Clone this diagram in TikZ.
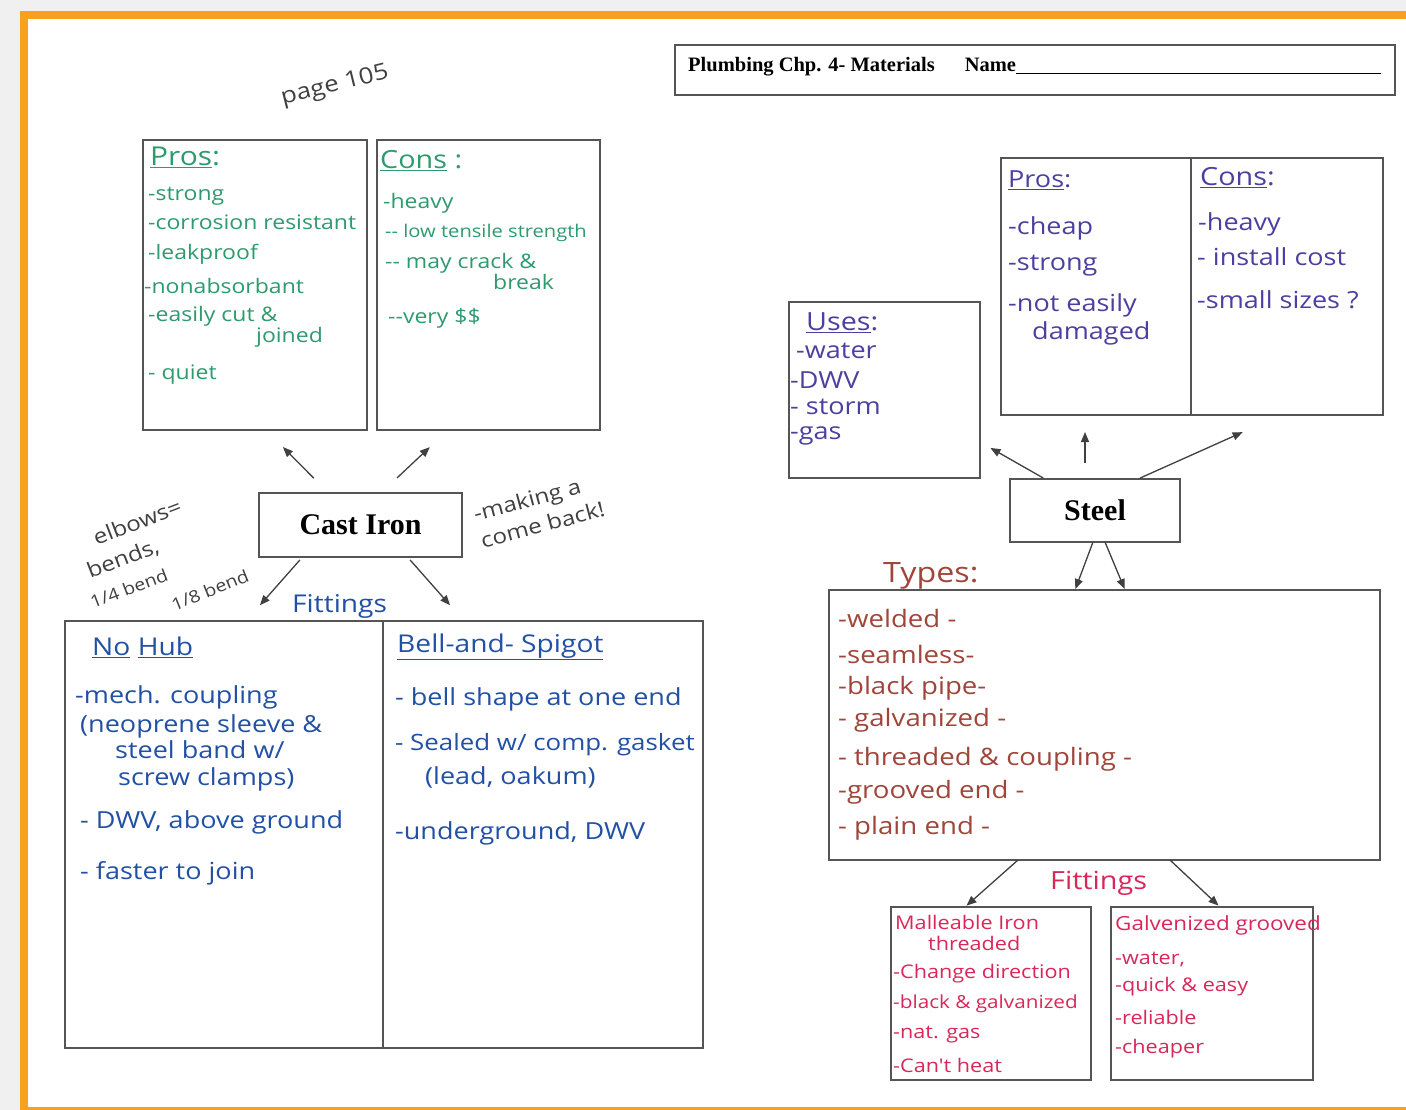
\documentclass[tikz,border=0pt]{standalone}
\usepackage{fontspec}
\setmainfont{Liberation Serif}
\newfontfamily\hw[FakeStretch=1.15]{Open Sans}
\usetikzlibrary{arrows.meta}
\definecolor{orng}{HTML}{F7A11F}
\definecolor{cgreen}{HTML}{2E9A6E}
\definecolor{cpurp}{HTML}{4B40A0}
\definecolor{cblue}{HTML}{2150A5}
\definecolor{cbrown}{HTML}{A0453A}
\definecolor{cred}{HTML}{D8285A}
\definecolor{cann}{HTML}{404040}
\definecolor{boxc}{HTML}{555555}
\begin{document}
\begin{tikzpicture}[x=1pt,y=-1pt,
  box/.style={draw=boxc, line width=1.3pt, inner sep=0pt, outer sep=0pt},
  arr/.style={-{Triangle[length=10pt,width=8pt]}, draw=black!75, line width=1.3pt},
  tx/.style={inner sep=0pt, anchor=west},
  gtx/.style={tx, text=cgreen, font=\hw\fontsize{20}{22}\selectfont},
  ptx/.style={tx, text=cpurp, font=\hw\fontsize{23.5}{26}\selectfont},
  btx/.style={tx, text=cblue, font=\hw\fontsize{23.5}{26}\selectfont},
  rtx/.style={tx, text=cbrown, font=\hw\fontsize{24}{27}\selectfont},
  ctx/.style={tx, text=cred, font=\hw\fontsize{18.8}{21}\selectfont},
  ann/.style={inner sep=0pt, anchor=center, text=cann, font=\hw\fontsize{21}{24}\selectfont},
  title/.style={inner sep=0pt, font=\bfseries\fontsize{30}{34}\selectfont}
]
\useasboundingbox (0,0) rectangle (1406,1110);
\fill[white] (0,0) rectangle (1406,1110);
\fill[black!6] (0,0) rectangle (1406,11);
\fill[black!6] (0,0) rectangle (20,1110);
\fill[orng] (20,11) rectangle (1406,19);
\fill[orng] (20,11) rectangle (28,1110);
\fill[orng] (20,1107) rectangle (1406,1110);

% ---------- boxes ----------
\node[box, minimum width=720pt, minimum height=50pt] (ttl) at (1035,70) {};
\node[box, minimum width=224pt, minimum height=290pt] (cipros) at (255,285) {};
\node[box, minimum width=223pt, minimum height=290pt] (cicons) at (488.5,285) {};
\node[box, minimum width=203pt, minimum height=64pt] (ci) at (360.5,525) {};
\node[box, minimum width=318pt, minimum height=427pt] (nohub) at (224,834.5) {};
\node[box, minimum width=320pt, minimum height=427pt] (bell) at (543,834.5) {};
\node[box, minimum width=191pt, minimum height=176pt] (uses) at (884.5,390) {};
\node[box, minimum width=190pt, minimum height=257pt] (stpros) at (1096,286.5) {};
\node[box, minimum width=192pt, minimum height=257pt] (stcons) at (1287,286.5) {};
\node[box, minimum width=170pt, minimum height=63pt] (st) at (1095,510.5) {};
\node[box, minimum width=551pt, minimum height=270pt] (types) at (1104.5,725) {};
\node[box, minimum width=200pt, minimum height=173pt] (mall) at (991,993.5) {};
\node[box, minimum width=202pt, minimum height=173pt] (galv) at (1212,993.5) {};

% ---------- printed text ----------
\node[tx, font=\bfseries\fontsize{20.5}{23}\selectfont] (ttltx) at (688,67)
  {Plumbing Chp. 4- Materials\hspace{30pt}Name\underline{\hspace{365pt}}};
\node[title] (citx) at (ci) {Cast Iron};
\node[title] (sttx) at (st) {Steel};

% ---------- arrows ----------
\draw[arr, shorten <=21pt, shorten >=24pt] ([xshift=-32pt]ci.north) -- ([xshift=11pt]cipros.south);
\draw[arr, shorten <=22pt, shorten >=25pt] ([xshift=20.5pt]ci.north) -- ([xshift=-40.5pt]cicons.south);
\draw[arr, shorten <=4pt, shorten >=21pt] ([xshift=-58pt]ci.south) -- ([xshift=22pt]nohub.north);
\draw[arr, shorten <=4pt, shorten >=21pt] ([xshift=47pt]ci.south) -- ([xshift=-79pt]bell.north);
\draw[arr, shorten <=2pt, shorten >=12pt] ([xshift=-50pt]st.north) -- ([yshift=-52pt]uses.east);
\draw[arr, shorten <=16pt, shorten >=17pt] ([xshift=-10pt]st.north) -- ([xshift=-11pt]stpros.south);
\draw[arr, shorten <=2pt, shorten >=42pt] ([xshift=43pt]st.north) -- ([xshift=-6pt]stcons.south);
\draw[arr, shorten >=1pt] ([xshift=-2pt]st.south) -- ([xshift=-29.5pt]types.north);
\draw[arr, shorten >=1pt] ([xshift=10pt]st.south) -- ([xshift=20.5pt]types.north);
\draw[arr, shorten >=2pt] ([xshift=-86.5pt]types.south) -- ([xshift=-26pt]mall.north);
\draw[arr, shorten >=2pt] ([xshift=65.5pt]types.south) -- ([xshift=8pt]galv.north);

% ---------- annotations ----------
\node[ann, rotate=14, font=\hw\fontsize{22.5}{25}\selectfont] (pg) at (335,86) {page 105};
\node[ann, rotate=21, anchor=base west, align=left, font=\hw\fontsize{21}{29}\selectfont] (elb) at (93,609)
  {\hspace*{26pt}elbows=\\\hspace*{8pt}bends,\\{\fontsize{17}{20}\selectfont 1/4 bend}};
\node[ann, rotate=22, font=\hw\fontsize{17}{20}\selectfont] (elb8) at (210,590) {1/8 bend};
\node[ann, rotate=15, align=left, font=\hw\fontsize{21}{28}\selectfont] (mk) at (539,511) {-making a\\come back!};

% ---------- cast iron pros / cons ----------
\node[gtx, font=\hw\fontsize{26}{29}\selectfont] (cp0) at (150,157) {\underline{Pros}:};
\node[gtx] (cp1) at (148,196) {-strong};
\node[gtx] (cp2) at (148,222) {-corrosion resistant};
\node[gtx] (cp3) at (148,254) {-leakproof};
\node[gtx] (cp4) at (144,286) {-nonabsorbant};
\node[gtx, anchor=base west, align=left, font=\hw\fontsize{20}{15}\selectfont] (cp5) at (148,342) {-easily cut \&\\\hspace*{108pt}joined};
\node[gtx] (cp7) at (148,375) {- quiet};
\node[gtx, font=\hw\fontsize{25}{28}\selectfont] (cc0) at (380,161) {\underline{Cons} :};
\node[gtx] (cc1) at (383,203) {-heavy};
\node[gtx, font=\hw\fontsize{17.5}{20}\selectfont] (cc2) at (385,233) {-- low tensile strength};
\node[gtx, anchor=base west, align=left, font=\hw\fontsize{20}{21}\selectfont] (cc3) at (385,290) {-- may crack \&\\\hspace*{108pt}break};
\node[gtx] (cc5) at (388,318) {--very \$\$};

% ---------- cast iron fittings ----------
\node[btx, font=\hw\fontsize{24.5}{27}\selectfont] (cf0) at (292,606) {Fittings};
\node[btx, font=\hw\fontsize{24.5}{27}\selectfont] (nh0) at (92,647) {\underline{No} \underline{Hub}};
\node[btx] (nh1) at (75,697) {-mech. coupling};
\node[btx, anchor=base west, align=left, font=\hw\fontsize{23.5}{26.5}\selectfont] (nh2) at (80,785)
  {(neoprene sleeve \&\\\hspace*{35pt}steel band w/\\\hspace*{38pt}screw clamps)};
\node[btx] (nh5) at (80,822) {- DWV, above ground};
\node[btx] (nh6) at (80,873) {- faster to join};
\node[btx, font=\hw\fontsize{24.5}{27}\selectfont] (bs0) at (397,647) {\underline{Bell-and- Spigot}};
\node[btx] (bs1) at (395,699) {- bell shape at one end};
\node[btx, anchor=base west, align=left, font=\hw\fontsize{22.5}{34}\selectfont] (bs2) at (395,784)
  {- Sealed w/ comp. gasket\\\hspace*{30pt}{\fontsize{23.5}{26}\selectfont(lead, oakum)}};
\node[btx] (bs4) at (395,833) {-underground, DWV};

% ---------- steel ----------
\node[ptx] (sp0) at (1008,180) {\underline{Pros}:};
\node[ptx] (sp1) at (1008,228) {-cheap};
\node[ptx] (sp2) at (1008,266) {-strong};
\node[ptx, anchor=base west, align=left, font=\hw\fontsize{23.5}{28}\selectfont] (sp3) at (1008,339) {-not easily\\\hspace*{24pt}damaged};
\node[ptx, font=\hw\fontsize{25}{28}\selectfont] (sc0) at (1200,178) {\underline{Cons}:};
\node[ptx] (sc1) at (1198,224) {-heavy};
\node[ptx] (sc2) at (1197,257) {- install cost};
\node[ptx] (sc3) at (1197,300) {-small sizes ?};
\node[ptx, font=\hw\fontsize{25}{28}\selectfont] (us0) at (806,323) {\underline{Uses}:};
\node[ptx] (us1) at (796,351) {-water};
\node[ptx] (us2) at (790,380) {-DWV};
\node[ptx] (us3) at (790,407) {- storm};
\node[ptx] (us4) at (790,436) {-gas};

% ---------- types ----------
\node[rtx, font=\hw\fontsize{28}{31}\selectfont] (ty0) at (883,576) {Types:};
\node[rtx] (ty1) at (838,618) {-welded -};
\node[rtx] (ty2) at (838,654) {-seamless-};
\node[rtx] (ty3) at (838,688) {-black pipe-};
\node[rtx] (ty4) at (838,720) {- galvanized -};
\node[rtx] (ty5) at (838,759) {- threaded \& coupling -};
\node[rtx] (ty6) at (838,792) {-grooved end -};
\node[rtx] (ty7) at (838,828) {- plain end -};

% ---------- steel fittings ----------
\node[ctx, font=\hw\fontsize{25}{28}\selectfont] (sf0) at (1050,883) {Fittings};
\node[ctx, anchor=base west, align=left, font=\hw\fontsize{18.8}{21}\selectfont] (mi0) at (895,950) {Malleable Iron\\\hspace*{33pt}threaded};
\node[ctx] (mi2) at (893,974) {-Change direction};
\node[ctx, font=\hw\fontsize{18}{21}\selectfont] (mi3) at (893,1004) {-black \& galvanized};
\node[ctx] (mi4) at (893,1035) {-nat. gas};
\node[ctx] (mi5) at (893,1065) {-Can't heat};
\node[ctx, font=\hw\fontsize{19.5}{22}\selectfont] (gv0) at (1115,925) {Galvenized grooved};
\node[ctx] (gv1) at (1115,960) {-water,};
\node[ctx] (gv2) at (1115,987) {-quick \& easy};
\node[ctx] (gv3) at (1115,1017) {-reliable};
\node[ctx] (gv4) at (1115,1049) {-cheaper};
\end{tikzpicture}
\end{document}
